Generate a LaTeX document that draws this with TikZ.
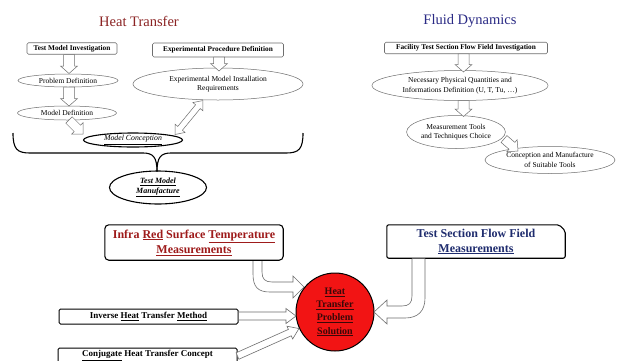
\documentclass[tikz,border=0pt]{standalone}
\usepackage{fontspec}
\setmainfont{Liberation Serif}
\usetikzlibrary{shapes.geometric,calc}
\definecolor{htred}{HTML}{8B2323}
\definecolor{fdblue}{HTML}{2A2A85}
\definecolor{irred}{HTML}{9E1B1B}
\definecolor{tsblue}{HTML}{1F2C6E}
\definecolor{edgegray}{HTML}{6E6E6E}
\definecolor{solred}{HTML}{F21414}
\definecolor{soltext}{HTML}{3A0808}
% hollow straight arrow: [opts]{from}{to}{shaft half}{head half}{head length}
\newcommand\harr[6][]{%
  \draw[hollow,#1] let \p1=($(#3)-(#2)$), \n1={atan2(\y1,\x1)}, \n2={veclen(\x1,\y1)} in
   [shift={(#2)}, rotate=\n1]
   (0,#4) -- ({\n2-#6},#4) -- ({\n2-#6},#5) -- ({\n2},0) -- ({\n2-#6},-#5) -- ({\n2-#6},-#4) -- (0,-#4) -- cycle;}
\newcommand\hdarr[6][]{%
  \draw[hollow,#1] let \p1=($(#3)-(#2)$), \n1={atan2(\y1,\x1)}, \n2={veclen(\x1,\y1)} in
   [shift={(#2)}, rotate=\n1]
   (0,0) -- ({#6},#5) -- ({#6},#4) -- ({\n2-#6},#4) -- ({\n2-#6},#5) -- ({\n2},0) -- ({\n2-#6},-#5) -- ({\n2-#6},-#4) -- ({#6},-#4) -- ({#6},-#5) -- cycle;}
\begin{document}
\begin{tikzpicture}[x=1pt,y=-1pt,
  hollow/.style={draw=edgegray, line width=0.5pt, fill=white, line join=miter},
  title/.style={inner sep=0pt, font=\fontsize{14.5}{16}\selectfont},
  topbox/.style={draw=edgegray, line width=0.6pt, rounded corners=1.5pt, fill=white, inner sep=0pt, font=\fontsize{7.3}{8}\selectfont\bfseries},
  oval/.style={ellipse, draw=edgegray, line width=0.5pt, fill=white, inner sep=0pt, align=center, font=\fontsize{7.5}{9.5}\selectfont},
  keyoval/.style={ellipse, draw=black, line width=1.1pt, fill=white, inner sep=0pt, align=center},
  bigbox/.style={inner sep=0pt, align=center, font=\fontsize{12}{15}\selectfont\bfseries},
  bigedge/.style={draw=black, line width=1.1pt},
  smallbox/.style={draw=black, line width=1pt, rounded corners=1.5pt, fill=white, inner sep=0pt, font=\fontsize{9}{10}\selectfont\bfseries},
  sol/.style={circle, draw=black, line width=1pt, fill=solred, minimum size=78pt, inner sep=0pt, align=center, text=soltext, font=\fontsize{10}{13.3}\selectfont\bfseries}]
\useasboundingbox (0,0) rectangle (619,360);
\fill[white] (0,0) rectangle (619,360);

% titles
\node[title, text=htred] (htt) at (139,21) {Heat Transfer};
\node[title, text=fdblue] (fdt) at (470,21) {Fluid Dynamics};

% Heat transfer branch
\node[topbox, minimum width=90pt, minimum height=11.5pt] (tmi) at (72,48.5) {Test Model Investigation};
\node[topbox, minimum width=131pt, minimum height=14pt] (epd) at (218,50) {Experimental Procedure Definition};
\node[oval, minimum width=100pt, minimum height=13pt] (pd) at (68,80.5) {Problem Definition};
\node[oval, minimum width=99pt, minimum height=14pt] (md) at (67,113) {Model Definition};
\node[oval, minimum width=170pt, minimum height=32pt] (emir) at (218,84) {Experimental Model Installation\\Requirements};
\node[keyoval, minimum width=99pt, minimum height=14pt, font=\fontsize{7.8}{9}\selectfont\itshape] (mc) at (133,140) {\underline{Model Conception}};
\node[keyoval, minimum width=97pt, minimum height=33pt, font=\fontsize{8}{10}\selectfont\bfseries\itshape] (tmm) at (158,187.5) {\underline{Test Model}\\\underline{Manufacture}};

\coordinate (a1s) at (69,54.5);  \coordinate (a1e) at (69,73.5);
\coordinate (a2s) at (69,87.2);  \coordinate (a2e) at (69,106);
\coordinate (a3s) at (69,120);   \coordinate (a3e) at (83,134);
\coordinate (a4s) at (219,57);   \coordinate (a4e) at (219,71);
\coordinate (a5s) at (175,134.5); \coordinate (a5e) at (203,100.5);
\harr{a1s}{a1e}{5.5}{8.5}{7.5}
\harr{a2s}{a2e}{5.5}{8.5}{7.5}
\harr{a3s}{a3e}{4.5}{8}{8}
\harr{a4s}{a4e}{5.5}{8.5}{7.5}
\hdarr{a5s}{a5e}{3}{6.5}{8}

% brace
\coordinate (brl) at (13,133); \coordinate (brr) at (303,133); \coordinate (brt) at (157,171.5);
\draw[black, line width=1.1pt]
  (brl) .. controls (13,149) and (17,153) .. (30,153) -- (143,153)
  .. controls (153,153) and (157,157) .. (brt);
\draw[black, line width=1.1pt]
  (brr) .. controls (303,149) and (299,153) .. (286,153) -- (171,153)
  .. controls (161,153) and (157,157) .. (brt);

% Fluid dynamics branch
\node[topbox, minimum width=163pt, minimum height=11.5pt] (fac) at (466,48) {Facility Test Section Flow Field Investigation};
\node[oval, minimum width=176pt, minimum height=30pt] (npq) at (460,85.5) {Necessary Physical Quantities and\\Informations Definition (U, T, Tu, \dots)};
\node[oval, minimum width=98pt, minimum height=33pt] (mtc) at (456,132) {Measurement Tools\\and Techniques Choice};
\node[oval, minimum width=130pt, minimum height=27pt] (cms) at (550,160) {Conception and Manufacture\\of Suitable Tools};
\coordinate (b1s) at (463.5,53.8); \coordinate (b1e) at (463.5,72);
\coordinate (b2s) at (463.5,100.5); \coordinate (b2e) at (463.5,116.5);
\coordinate (b3s) at (504,139); \coordinate (b3e) at (518,151);
\harr{b1s}{b1e}{5.5}{8.5}{7.5}
\harr{b2s}{b2e}{5.5}{8.5}{7.5}
\harr{b3s}{b3e}{4.5}{8}{8}

% bottom part
\node[bigbox, text=irred, minimum width=178pt, minimum height=35pt] (ir) at (194,242.5) {Infra \underline{Red} Surface \underline{Temperature}\\\underline{Measurements}};
\draw[bigedge, rounded corners=4pt] (ir.south west) -- (ir.north west) -- (ir.north east) -- (ir.south east) -- cycle;
\node[bigbox, text=tsblue, minimum width=178pt, minimum height=33pt] (ts) at (476,241.5) {Test Section Flow Field\\\underline{Measurements}};
\draw[bigedge, rounded corners=2pt] (ts.south west) -- (ts.north west) -- ($(ts.north east)+(-6,0)$) -- ($(ts.north east)+(0,6)$) -- (ts.south east) -- cycle;
\node[sol] (sol) at (335,312) {\underline{Heat}\\\underline{Transfer}\\\underline{Problem}\\\underline{Solution}};
\node[smallbox, minimum width=179pt, minimum height=15pt] (inv) at (148.5,316.5) {Inverse \underline{Heat} Transfer \underline{Method}};
\node[smallbox, minimum width=179pt, minimum height=15pt] (conj) at (147.5,355.5) {\underline{Conjugate} Heat Transfer Concept};

% curved hollow arrows
\draw[hollow, line width=0.6pt] (253,261) -- (253,274) .. controls (253,287) and (258,292) .. (270,292) -- (293,292) -- (293,298) -- (304,287) -- (293,276) -- (293,282) -- (272,282) .. controls (265,282) and (262,279) .. (262,272) -- (262,261);
\draw[hollow, line width=0.6pt] (412,258.5) -- (412,296) .. controls (412,303) and (409,306) .. (402,306) -- (387,306) -- (387,300) -- (374,312) -- (387,324) -- (387,318) -- (405,318) .. controls (418,318) and (425,311) .. (425,298) -- (425,258.5);
\coordinate (c1s) at (238.5,316); \coordinate (c1e) at (296,316);
\coordinate (c2s) at (237.5,356); \coordinate (c2e) at (299,328.5);
\harr[line width=0.6pt]{c1s}{c1e}{4}{7.5}{10}
\harr[line width=0.6pt]{c2s}{c2e}{3.5}{7}{10}
\end{tikzpicture}
\end{document}
